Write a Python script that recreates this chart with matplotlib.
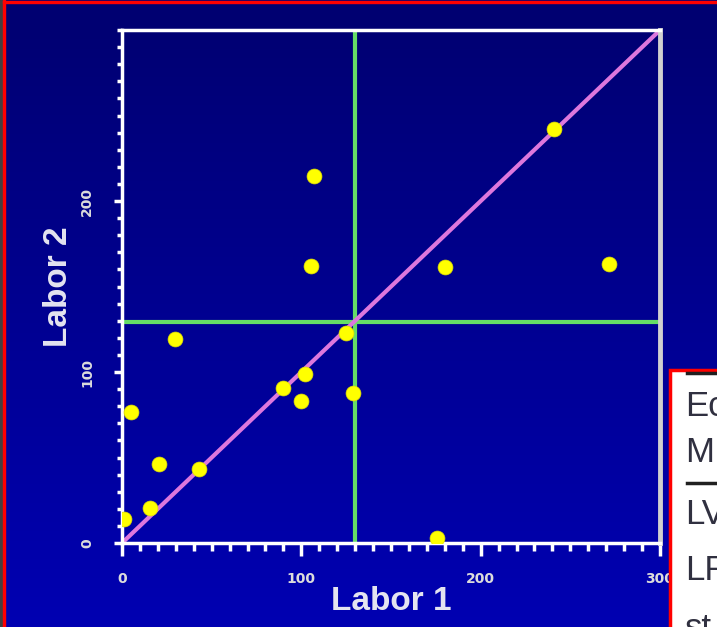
import numpy as np
import matplotlib as mpl
mpl.use('Agg')
import matplotlib.pyplot as plt
from matplotlib.patches import Rectangle

# measurements: lab 1 vs lab 2
labor1 = [1, 5, 15.6, 20.6, 29.6, 43, 89.8, 99.8, 102, 105.4, 107, 125, 128.8, 175.7, 180, 241, 271.6]
labor2 = [14, 76.6, 20.5, 46.2, 119.3, 43.3, 90.6, 83, 98.8, 162, 214.6, 122.8, 87.7, 2.9, 161.4, 242, 163]
median1 = 130
median2 = 129.5
axis_max = 300
legend_lines = ['Ec', 'M', 'LV', 'LF', 'st']

W, H = 717, 627
fig = plt.figure(figsize=(W / 100, H / 100), dpi=100)

# slide background: vertical blue gradient
bg = fig.add_axes([0, 0, 1, 1], zorder=0)
grad = np.linspace(0, 1, 256).reshape(-1, 1)
cmap = mpl.colors.LinearSegmentedColormap.from_list('slide', ['#000070', '#0000B2'])
bg.imshow(grad, aspect='auto', cmap=cmap, extent=[0, 1, 0, 1], origin='upper')
bg.set_xlim(0, 1)
bg.set_ylim(0, 1)
bg.axis('off')
# frame edges of the slide
bg.add_patch(Rectangle((0, 0), 0.0045, 1, color='#404040', transform=bg.transAxes))
bg.add_patch(Rectangle((0.0045, 0), 0.003, 1, color='#ff0000', transform=bg.transAxes))
bg.add_patch(Rectangle((0.0045, 0.9955), 0.9955, 0.0035, color='#ff0000', transform=bg.transAxes))

ax = fig.add_axes([0.1702, 0.134, 0.7503, 0.818], zorder=1)
ax.set_facecolor('none')
ax.set_xlim(0, axis_max)
ax.set_ylim(0, axis_max)

ax.plot([0, axis_max], [0, axis_max], color='#dd77dd', lw=3, solid_capstyle='round', zorder=2)
ax.axvline(median1, color='#66dd66', lw=3, zorder=1)
ax.axhline(median2, color='#66dd66', lw=3, zorder=1)
ax.scatter(labor1, labor2, s=115, color='#ffff00', edgecolors='#e0e000', linewidths=0.5, zorder=3)

for side in ['left', 'top', 'bottom']:
    ax.spines[side].set_color('white')
    ax.spines[side].set_linewidth(2.5)
ax.spines['right'].set_color('#d0d0d0')
ax.spines['right'].set_linewidth(3.5)

ax.set_xticks([0, 100, 200, 300])
ax.set_yticks([0, 100, 200])
ax.set_xticks(np.arange(0, 301, 10), minor=True)
ax.set_yticks(np.arange(0, 301, 10), minor=True)
ax.tick_params(axis='x', which='major', direction='out', length=9, width=2.5, color='white',
               labelcolor='#dcdcdc', labelsize=10, pad=12)
ax.tick_params(axis='x', which='minor', direction='out', length=6, width=2.5, color='white')
ax.tick_params(axis='y', which='major', direction='out', length=6, width=2.5, color='white',
               labelcolor='#dcdcdc', labelsize=10, pad=14)
ax.tick_params(axis='y', which='minor', direction='out', length=3.5, width=2.5, color='white')
for lbl in ax.get_xticklabels() + ax.get_yticklabels():
    lbl.set_fontweight('bold')
for lbl in ax.get_yticklabels():
    lbl.set_rotation(90)
    lbl.set_verticalalignment('center')

ax.set_xlabel('Labor 1', fontsize=24, fontweight='bold', color='#e4e4f0',
              family='Liberation Sans')
ax.set_ylabel('Labor 2', fontsize=24, fontweight='bold', color='#e4e4f0',
              family='Liberation Sans')
ax.xaxis.set_label_coords(0.5, (H - 602 - 84) / (0.818 * H), transform=ax.transAxes)
ax.yaxis.set_label_coords((58 - 122) / (0.7503 * W), 0.5, transform=ax.transAxes)
ax.xaxis.label.set_verticalalignment('center')
ax.yaxis.label.set_verticalalignment('center')

# table panel cut off at the right edge of the slide
ft = fig.transFigure
fig.patches.append(Rectangle((670 / W, -0.01), 0.1, 1 - 370 / H + 0.01, facecolor='white',
                             edgecolor='#ff0000', lw=2.5, transform=ft, zorder=3))
for yp in [373, 483]:
    fig.add_artist(plt.Line2D([687 / W, 1], [1 - yp / H] * 2, color='#202020', lw=2.5,
                              transform=ft, zorder=4))
ys = [407, 452, 514, 571, 629]
for txt, yp in zip(legend_lines, ys):
    fig.text(685 / W, 1 - yp / H, txt, fontsize=25, color='#303040', family='Liberation Sans',
             va='center', ha='left', zorder=5)

fig.savefig('out.png', dpi=100)
